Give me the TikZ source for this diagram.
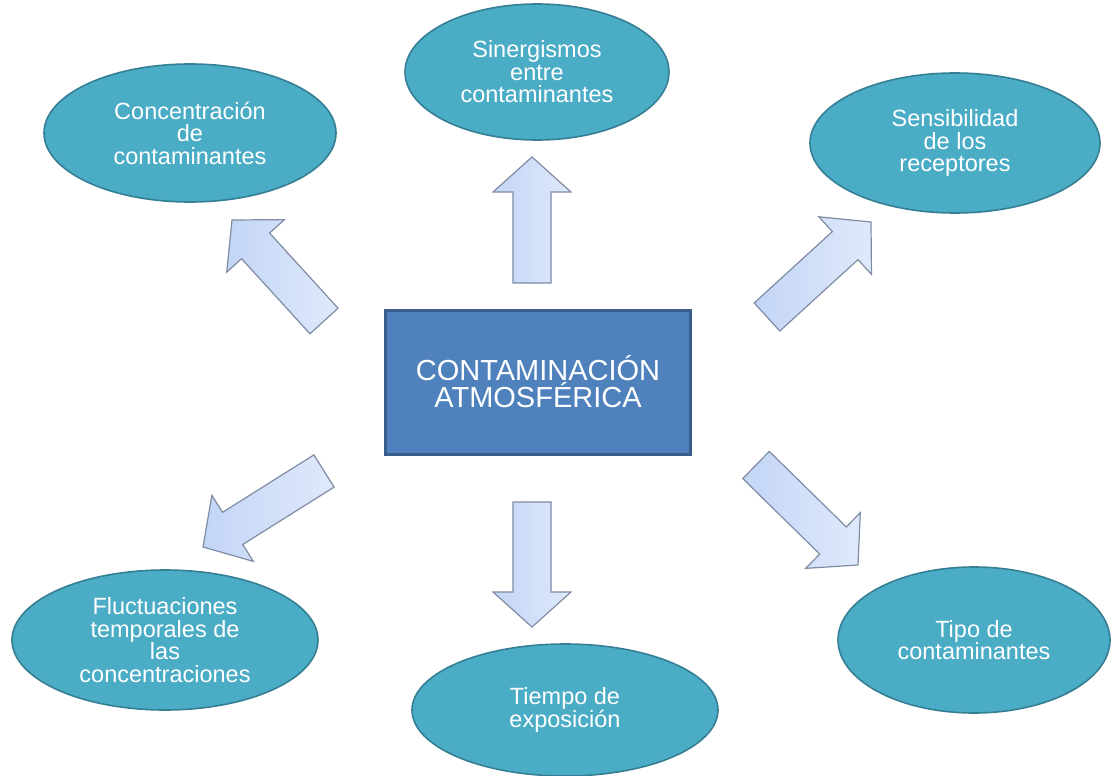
\documentclass[tikz,border=0pt]{standalone}
\usepackage{fontspec}
\setmainfont{Liberation Sans}
\usetikzlibrary{shapes.geometric,calc}
\definecolor{ellfill}{HTML}{4BACC6}
\definecolor{elldraw}{HTML}{357F94}
\definecolor{boxfill}{HTML}{4F81BD}
\definecolor{boxdraw}{HTML}{385D8A}
\definecolor{arrA}{HTML}{C3D5F6}
\definecolor{arrB}{HTML}{DFE9FB}
\definecolor{arrdraw}{HTML}{7F8CA3}
\tikzset{
  bubble/.style={ellipse, fill=ellfill, draw=elldraw, line width=1.6pt, inner sep=0pt,
    text=white, align=center, font=\fontsize{23.5}{22.5}\selectfont},
  centerbox/.style={rectangle, fill=boxfill, draw=boxdraw, line width=3pt,
    text=white, align=center, font=\fontsize{29}{27}\selectfont},
  blockarrow/.style={draw=arrdraw, line width=1.2pt, line join=miter,
    left color=arrA, right color=arrB}
}
\newcommand\blockarr[3]{%
  \coordinate (#1-t) at #2;
  \coordinate (#1-h) at #3;
  \coordinate (#1-b) at ($(#1-h)!35pt!(#1-t)$);
  \path[blockarrow] ($(#1-t)!19pt!90:(#1-h)$) -- ($(#1-b)!19pt!90:(#1-h)$)
    -- ($(#1-b)!39pt!90:(#1-h)$) -- (#1-h) -- ($(#1-b)!39pt!-90:(#1-h)$)
    -- ($(#1-b)!19pt!-90:(#1-h)$) -- ($(#1-t)!19pt!-90:(#1-h)$) -- cycle;
}
\begin{document}
\begin{tikzpicture}[x=1pt,y=-1pt]
\useasboundingbox[fill=white] (0,0) rectangle (1114,776);
% central box
\node[centerbox, minimum width=305pt, minimum height=144pt] (c) at (538,382)
  {CONTAMINACIÓN\\ATMOSFÉRICA};
% ellipses
\node[bubble, minimum width=292pt, minimum height=138pt] (conc) at (190,133)
  {Concentración\\de\\contaminantes};
\node[bubble, minimum width=264pt, minimum height=136pt] (sin) at (537,72)
  {Sinergismos\\entre\\contaminantes};
\node[bubble, minimum width=290pt, minimum height=140pt] (sens) at (955,143)
  {Sensibilidad\\de los\\receptores};
\node[bubble, minimum width=306pt, minimum height=140pt] (fluc) at (165,640)
  {Fluctuaciones\\temporales de\\las\\concentraciones};
\node[bubble, minimum width=306pt, minimum height=132pt] (tiem) at (565,710)
  {Tiempo de\\exposición};
\node[bubble, minimum width=272pt, minimum height=146pt] (tipo) at (974,640)
  {Tipo de\\contaminantes};
% block arrows
\blockarr{a1}{(324,321)}{(232,220)}
\blockarr{a2}{(532,283)}{(532,157)}
\blockarr{a3}{(767,317)}{(871,222)}
\blockarr{a4}{(324,471)}{(203,547)}
\blockarr{a5}{(532,502)}{(532,627)}
\blockarr{a6}{(756,465)}{(858,565)}
\end{tikzpicture}
\end{document}
